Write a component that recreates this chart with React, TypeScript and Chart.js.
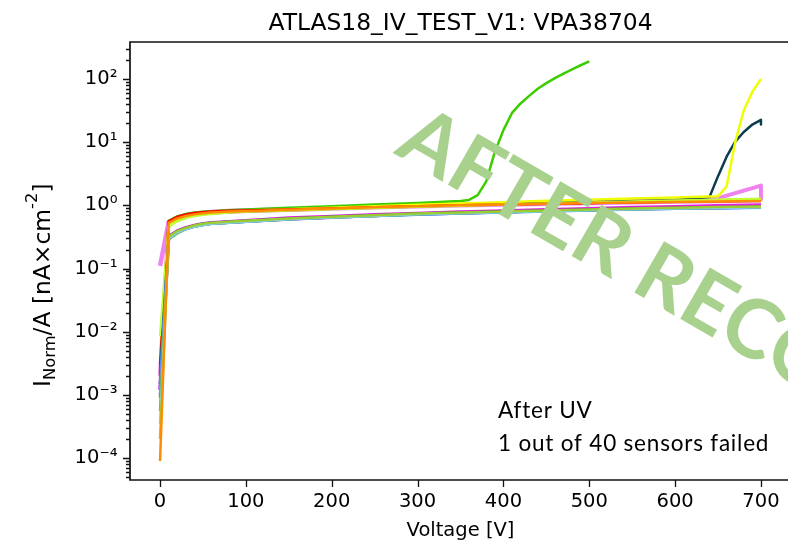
import React, { useEffect, useRef } from "react";
import { Chart, registerables } from "chart.js";

Chart.register(...registerables);

const titleText = "ATLAS18_IV_TEST_V1: VPA38704";
const xLabelText = "Voltage [V]";
const xTickValues = [0, 100, 200, 300, 400, 500, 600, 700];
const noteLines = ["After UV", "1 out of 40 sensors failed"];
const watermarkText = "AFTER RECOVERY";

// common voltage grid [V]
const voltages = [0, 10, 20, 30, 40, 50, 60, 80, 100, 150, 200, 250, 300, 350, 400, 450, 500, 550, 600, 650, 700];

// normalised currents [nA/cm^2]
const orangeI = [9.0e-5, 0.53, 0.62, 0.68, 0.72, 0.75, 0.77, 0.80, 0.81, 0.85, 0.89, 0.93, 0.97, 1.00, 1.03, 1.06, 1.09, 1.11, 1.13, 1.15, 1.17];
const yellowGreenI = [2.0e-4, 0.32, 0.39, 0.44, 0.48, 0.51, 0.53, 0.55, 0.57, 0.62, 0.66, 0.70, 0.74, 0.77, 0.80, 0.83, 0.86, 0.89, 0.92, 0.94, 0.96];
const skyI = [3.5e-4, 0.30, 0.37, 0.42, 0.46, 0.49, 0.51, 0.53, 0.55, 0.60, 0.64, 0.68, 0.72, 0.75, 0.78, 0.81, 0.84, 0.87, 0.89, 0.91, 0.93];
const greenLowI = [5.5e-4, 0.29, 0.36, 0.42, 0.46, 0.49, 0.51, 0.53, 0.55, 0.60, 0.64, 0.68, 0.72, 0.75, 0.78, 0.81, 0.84, 0.87, 0.89, 0.91, 0.93];
const lavenderI = [1.0e-3, 0.30, 0.37, 0.43, 0.47, 0.50, 0.52, 0.54, 0.56, 0.61, 0.65, 0.69, 0.72, 0.75, 0.78, 0.81, 0.84, 0.87, 0.89, 0.91, 0.93];
const blueI = [1.6e-3, 0.30, 0.37, 0.42, 0.46, 0.49, 0.51, 0.53, 0.55, 0.60, 0.64, 0.68, 0.71, 0.74, 0.77, 0.80, 0.83, 0.86, 0.88, 0.90, 0.92];
const slateI = [2.2e-3, 0.32, 0.39, 0.44, 0.48, 0.51, 0.53, 0.55, 0.57, 0.62, 0.66, 0.70, 0.74, 0.77, 0.80, 0.83, 0.86, 0.89, 0.91, 0.93, 0.95];
const magentaI = [1.0e-3, 0.33, 0.40, 0.45, 0.49, 0.52, 0.54, 0.56, 0.58, 0.64, 0.68, 0.72, 0.76, 0.80, 0.83, 0.87, 0.90, 0.94, 0.97, 1.00, 1.03];
const limeI = [8.5e-3, 0.46, 0.56, 0.63, 0.68, 0.71, 0.73, 0.77, 0.79, 0.83, 0.87, 0.91, 0.95, 0.99, 1.03, 1.07, 1.11, 1.15, 1.19, 1.23, 1.27];
const redI = [3.0e-3, 0.56, 0.66, 0.72, 0.76, 0.78, 0.80, 0.82, 0.83, 0.86, 0.89, 0.93, 0.97, 1.00, 1.03, 1.06, 1.09, 1.12, 1.15, 1.17, 1.19];
const crimsonI = [1.8e-3, 0.50, 0.60, 0.66, 0.70, 0.73, 0.75, 0.78, 0.80, 0.84, 0.88, 0.92, 0.96, 1.00, 1.03, 1.06, 1.09, 1.12, 1.14, 1.16, 1.18];
const purpleI = [1.2e-3, 0.31, 0.38, 0.43, 0.47, 0.50, 0.52, 0.54, 0.56, 0.61, 0.65, 0.69, 0.73, 0.76, 0.79, 0.82, 0.85, 0.88, 0.90, 0.92, 0.94];
const violetI = [0.11, 0.54, 0.62, 0.68, 0.72, 0.75, 0.77, 0.80, 0.82, 0.85, 0.89, 0.93, 0.97, 1.00, 1.03, 1.06, 1.09, 1.12, 1.15, 1.17, 1.20];

// sensors with their own voltage steps
const violet2V = [0, 10, 20, 30, 40, 50, 60, 80, 100, 150, 200, 250, 300, 350, 400, 450, 500, 550, 600, 650, 700, 700];
const violet2I = [2.0e-3, 0.55, 0.64, 0.70, 0.74, 0.77, 0.79, 0.82, 0.84, 0.87, 0.91, 0.95, 0.99, 1.03, 1.07, 1.11, 1.15, 1.19, 1.24, 1.30, 2.05, 1.25];

const yellowV = [0, 10, 20, 30, 40, 50, 60, 80, 100, 150, 200, 250, 300, 350, 400, 450, 500, 550, 600, 650, 660, 670, 680, 690, 700];
const yellowI = [4.0e-3, 0.50, 0.60, 0.67, 0.71, 0.74, 0.76, 0.80, 0.82, 0.87, 0.92, 0.97, 1.02, 1.07, 1.12, 1.18, 1.23, 1.28, 1.33, 1.39, 2.0, 10, 32, 63, 100];

const tealV = [0, 10, 20, 30, 40, 50, 60, 80, 100, 150, 200, 250, 300, 350, 400, 450, 500, 550, 600, 640, 650, 660, 670, 680, 690, 700, 700];
const tealI = [1.5e-3, 0.52, 0.61, 0.67, 0.71, 0.74, 0.76, 0.79, 0.81, 0.85, 0.89, 0.93, 0.97, 1.01, 1.05, 1.09, 1.13, 1.17, 1.21, 1.35, 2.9, 5.9, 10.2, 14.5, 19, 22.5, 19];

const greenV = [0, 10, 20, 30, 40, 50, 60, 80, 100, 150, 200, 250, 300, 350, 360, 370, 380, 390, 400, 410, 420, 430, 440, 450, 460, 470, 480, 490, 500];
const greenI = [9.0e-4, 0.57, 0.67, 0.73, 0.77, 0.79, 0.81, 0.84, 0.86, 0.92, 0.97, 1.03, 1.09, 1.17, 1.22, 1.45, 2.4, 7.0, 15.5, 29, 41, 54, 70, 86, 103, 122, 142, 165, 190];

type Series = [string, string, number[], number[], number];
const seriesList: Series[] = [
  ["orange", "#ff8c00", voltages, orangeI, 2.5],
  ["yellowgreen", "#9acd32", voltages, yellowGreenI, 2.5],
  ["sky", "#87cefa", voltages, skyI, 2.5],
  ["greenLow", "#44b400", voltages, greenLowI, 2.5],
  ["lavender", "#8c8cff", voltages, lavenderI, 2.5],
  ["blue", "#1e90ff", voltages, blueI, 2.5],
  ["slate", "#2f5f4f", voltages, slateI, 2.5],
  ["magenta", "#e020e0", voltages, magentaI, 2.5],
  ["lime", "#c0ff30", voltages, limeI, 2.5],
  ["red", "#ff0000", voltages, redI, 2.5],
  ["yellow", "#eeff00", yellowV, yellowI, 2.5],
  ["teal", "#0b3c50", tealV, tealI, 2.5],
  ["green", "#3ccc00", greenV, greenI, 2.5],
  ["crimson", "#ff0066", voltages, crimsonI, 2.5],
  ["purple", "#a020f0", voltages, purpleI, 3.5],
  ["violet2", "#ee82ee", violet2V, violet2I, 4],
  ["violet", "#ee82ee", voltages, violetI, 4.5],
];

const SUP: Record<string, string> = { "-": "\u207b", "0": "\u2070", "1": "\u00b9", "2": "\u00b2", "3": "\u00b3", "4": "\u2074", "5": "\u2075" };
const supText = (n: number) => String(n).split("").map((c) => SUP[c] || c).join("");

const TICK_FONT = { family: "'DejaVu Sans'", size: 19.5 };

const overlayPlugin = {
  id: "overlay",
  afterDatasetsDraw(chart: any) {
    const { ctx, chartArea: a, scales } = chart;
    ctx.save();
    ctx.strokeStyle = "#111";
    ctx.lineWidth = 1.3;
    ctx.beginPath();
    for (const v of xTickValues) {
      const px = Math.round(scales.x.getPixelForValue(v)) + 0.5;
      ctx.moveTo(px, a.bottom);
      ctx.lineTo(px, a.bottom + 7);
    }
    for (const t of scales.y.ticks) {
      const py = Math.round(scales.y.getPixelForValue(t.value)) + 0.5;
      const lg = Math.log10(t.value);
      const major = Math.abs(lg - Math.round(lg)) < 1e-9;
      ctx.moveTo(a.left, py);
      ctx.lineTo(a.left - (major ? 7 : 4), py);
    }
    ctx.stroke();
    ctx.lineWidth = 1.7;
    ctx.strokeStyle = "#111";
    ctx.beginPath();
    ctx.moveTo(a.right, a.bottom);
    ctx.lineTo(a.left, a.bottom);
    ctx.lineTo(a.left, a.top);
    ctx.lineTo(a.right, a.top);
    ctx.stroke();
    ctx.restore();
  },
  afterDraw(chart: any) {
    const { ctx, chartArea: a } = chart;
    const cx = (a.left + a.right) / 2;
    ctx.save();
    ctx.fillStyle = "#000";
    ctx.textBaseline = "alphabetic";
    // title
    ctx.textAlign = "center";
    ctx.font = "23.4px 'DejaVu Sans'";
    ctx.fillText(titleText, cx, 22.3);
    // x label
    ctx.font = "19.5px 'DejaVu Sans'";
    ctx.fillText(xLabelText, cx, 528);
    // y label with sub/superscript
    ctx.save();
    ctx.translate(42, 379);
    ctx.rotate(-Math.PI / 2);
    ctx.textAlign = "left";
    const big = "23.4px 'DejaVu Sans'";
    const small = "16.4px 'DejaVu Sans'";
    let x = 0;
    const part = (t: string, f: string, dy: number) => {
      ctx.font = f;
      ctx.fillText(t, x, dy);
      x += ctx.measureText(t).width;
    };
    part("I", big, 0);
    part("Norm", small, 5);
    part("/A [nA\u00d7cm", big, 0);
    part("-2", small, -13);
    part("]", big, 0);
    ctx.restore();
    // note
    ctx.textAlign = "left";
    ctx.font = "22.5px Lato";
    try {
      (ctx as any).letterSpacing = "0.8px";
    } catch (e) {}
    ctx.fillText(noteLines[0], 490, 410.3);
    ctx.fillText(noteLines[1], 490, 442.7);
    try {
      (ctx as any).letterSpacing = "0px";
    } catch (e) {}
    // watermark
    ctx.save();
    ctx.translate(385, 145);
    ctx.rotate((30 * Math.PI) / 180);
    ctx.fillStyle = "#a9d18e";
    ctx.font = "bold 82px Lato";
    ctx.fillText(watermarkText, 0, 0);
    ctx.restore();
    ctx.restore();
  },
};

export default function App() {
  const ref = useRef<HTMLCanvasElement | null>(null);
  useEffect(() => {
    if (!ref.current) return;
    const datasets = seriesList.map(([label, color, vs, is, w]) => ({
      label,
      data: vs.map((v, i) => ({ x: v, y: is[i] })),
      borderColor: color,
      backgroundColor: color,
      borderWidth: w,
      pointRadius: 0,
      tension: 0,
      fill: false,
      borderJoinStyle: "round" as const,
    }));
    const chart = new Chart(ref.current, {
      type: "line",
      data: { datasets },
      options: {
        animation: false,
        responsive: false,
        maintainAspectRatio: false,
        layout: { padding: { left: 0, right: 17, top: 34, bottom: 0 } },
        plugins: { legend: { display: false }, tooltip: { enabled: false }, title: { display: false } },
        scales: {
          x: {
            type: "linear",
            min: -35,
            max: 735,
            afterBuildTicks: (s: any) => {
              s.ticks = xTickValues.map((v) => ({ value: v }));
            },
            afterFit: (s: any) => {
              s.height = 65;
            },
            grid: { display: false, drawTicks: false },
            border: { display: false },
            ticks: { padding: 10.3, autoSkip: false, maxRotation: 0, color: "#000", font: TICK_FONT, callback: (v: any) => String(v) },
          },
          y: {
            type: "logarithmic",
            min: 4.5e-5,
            max: 385,
            afterBuildTicks: (s: any) => {
              const ticks: { value: number }[] = [];
              for (let e = -5; e <= 2; e++) {
                for (let m = 1; m <= 9; m++) {
                  const v = m * Math.pow(10, e);
                  if (v >= 4.5e-5 && v <= 385) ticks.push({ value: v });
                }
              }
              s.ticks = ticks;
            },
            afterFit: (s: any) => {
              s.width = 122;
            },
            grid: { display: false, drawTicks: false },
            border: { display: false },
            ticks: {
              padding: 12.5,
              autoSkip: false,
              color: "#000",
              font: TICK_FONT,
              callback: (v: any) => {
                const lg = Math.log10(Number(v));
                if (Math.abs(lg - Math.round(lg)) < 1e-9) return "10" + supText(Math.round(lg));
                return "";
              },
            },
          },
        },
      },
      plugins: [overlayPlugin],
    });
    return () => chart.destroy();
  }, []);
  return (
    <div style={{ position: "fixed", left: 8, top: 8, width: 780, height: 537, overflow: "hidden" }}>
      <canvas ref={ref} width={800} height={537} style={{ display: "block" }} />
    </div>
  );
}
